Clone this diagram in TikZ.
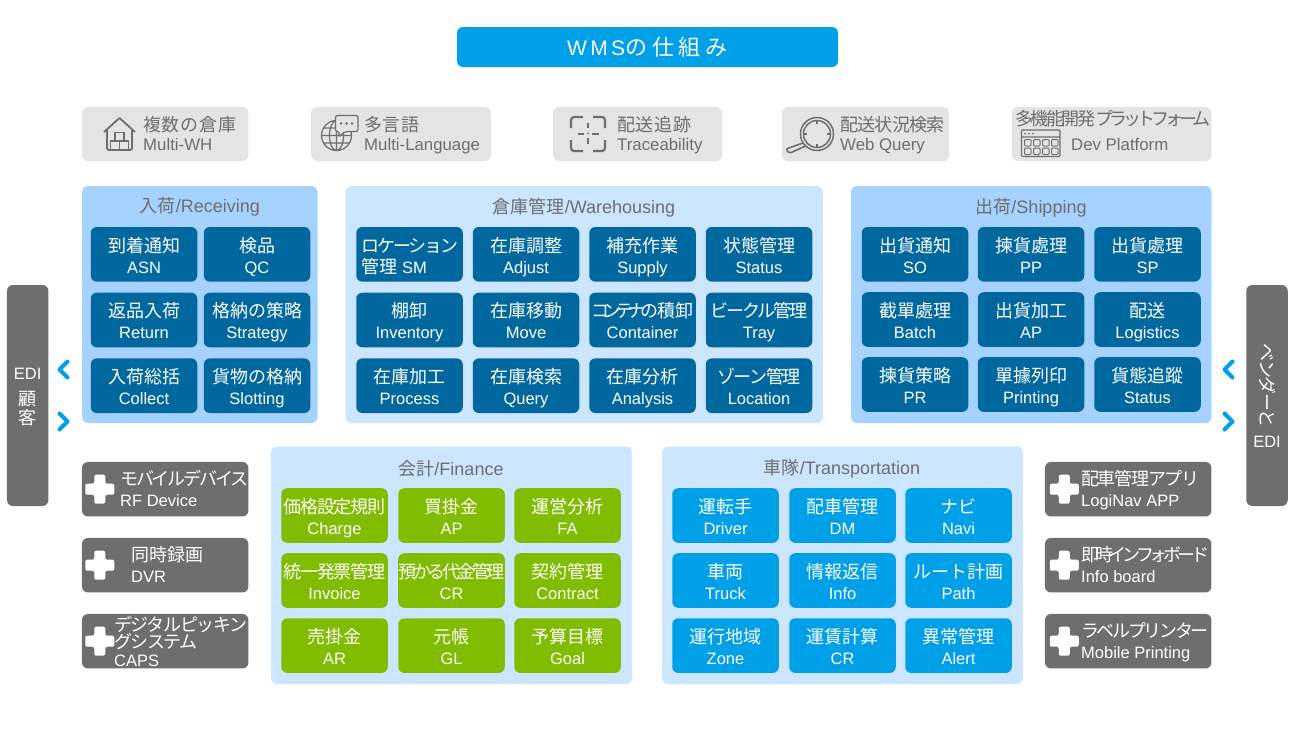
\documentclass[tikz,border=0pt]{standalone}
\usepackage{fontspec}
\usepackage{graphicx}
\setmainfont{Liberation Sans}
\newfontfamily\cjk{Noto Sans CJK JP}
\usepackage{xcolor}
\usetikzlibrary{calc}

\definecolor{wmscyan}{HTML}{00A0E9}
\definecolor{wmsdark}{HTML}{00689F}
\definecolor{wmsgreen}{HTML}{80BC00}
\definecolor{wmsgray}{HTML}{6E6E6E}
\definecolor{wmspale}{HTML}{E4E4E4}
\definecolor{wmssky}{HTML}{A6D2FF}
\definecolor{wmsice}{HTML}{CCE6FF}

% japanese text, optional squeeze in percent
\newcommand{\ja}[2][0]{{\cjk\addfontfeature{LetterSpace=#1}\fontsize{18}{21}\selectfont #2}}
% two lines whose height does not depend on the letters
\newcommand{\twoline}[2]{\rule{0pt}{20.6pt}#1\\#2\rule[-4pt]{0pt}{4pt}}

\begin{document}
\begin{tikzpicture}[x=1pt,y=-1pt]
    \tikzset{panel/.style = {rounded corners=6pt}}
    \tikzset{cell/.style = {rounded corners=6pt,inner sep=0pt,minimum width=106.5pt,minimum height=54.6pt,
      text=white,align=center,font=\fontsize{16.5}{21}\selectfont}}
    \tikzset{paneltitle/.style = {text=wmsgray,inner sep=0pt,font=\fontsize{18}{21}\selectfont}}
    \tikzset{feature/.style = {fill=wmspale,rounded corners=6pt,inner sep=0pt,minimum height=54pt}}
    \tikzset{featuretext/.style = {text=wmsgray,inner sep=0pt,anchor=west,align=left,font=\fontsize{16.8}{19}\selectfont}}
    \tikzset{addon/.style = {fill=wmsgray,rounded corners=6pt,inner sep=0pt,minimum width=166.5pt,minimum height=54.5pt}}
    \tikzset{addontext/.style = {text=white,inner sep=0pt,anchor=west,align=left,font=\fontsize{16.5}{21}\selectfont}}
    \tikzset{sidebar/.style = {fill=wmsgray,rounded corners=6pt,inner sep=0pt,minimum width=41.5pt,minimum height=221pt,
      text=white,align=center,font=\fontsize{16.5}{20}\selectfont}}
    \tikzset{chevron/.style = {draw=wmscyan,line width=4pt,line cap=round,line join=round}}
    \tikzset{icon/.style = {draw=wmsgray,line width=1.5pt,line join=round}}

    \useasboundingbox (0,0) rectangle (1295,732);

    % title
    \node[fill=wmscyan,rounded corners=6pt,minimum width=381pt,minimum height=40pt,inner sep=0pt,text=white,
      font=\fontsize{21}{24}\selectfont] (title) at (647.5,47) {\addfontfeature{LetterSpace=16}WMS{\cjk\addfontfeature{LetterSpace=22}\fontsize{22}{24}\selectfont の仕組み}};

    % feature boxes
    \foreach \n/\x/\w in {wh/165.2/166.5,lang/401/180,trace/637.5/169,web/865.5/167,dev/1111.7/199.5}
    {
      \node[feature,minimum width=\w pt] (\n) at (\x,134) {};
    }
    \node[featuretext] (whtext) at (143,132.5) {\twoline{\ja[4]{複数の倉庫}}{Multi-WH}};
    \node[featuretext] (langtext) at (364,132.5) {\twoline{\ja[4]{多言語}}{Multi-Language}};
    \node[featuretext] (tracetext) at (617,132.5) {\twoline{\ja[4]{配送追跡}}{Traceability}};
    \node[featuretext] (webtext) at (840,132.5) {\twoline{\ja[-4]{配送状況検索}}{Web Query}};
    \node[text=wmsgray,inner sep=0pt,anchor=west] (devtop) at (1015,119) {\ja[-14]{多機能開発}\ja[-22]{プラットフォーム}};
    \node[text=wmsgray,inner sep=0pt,anchor=west,font=\fontsize{16.8}{20}\selectfont] (devtext) at (1071,144) {Dev Platform};

    % feature icons
    \draw[icon,line width=1.8pt] (104,132) -- (119.5,118) -- (135,132) (107,129) -- (107,147) [rounded corners=2pt] -- (107,150) -- (132,150) -- (132,129);
    \draw[icon,line width=1.4pt] (110.5,149.5) rectangle (119.5,141) (119.5,149.5) rectangle (128.5,141) (115,141) rectangle (124,132.5);
    \draw[icon,line width=1.2pt] (336.5,135.5) circle (15) (336.5,135.5) ellipse (7 and 15) (321.5,135.5) -- (351.5,135.5) (336.5,120.5) -- (336.5,150.5)
      (324,128) -- (349,128) (324,143) -- (349,143);
    \draw[icon,line width=1.2pt,fill=wmspale,rounded corners=2pt] (335.5,115.5) -- (358,115.5) -- (358,131.5) -- (345,131.5) -- (338.5,137) -- (339.5,131.5) -- (335.5,131.5) -- cycle;
    \foreach \x in {341,346.5,352} {\fill[wmsgray] (\x,123.5) circle (1.3);}
    \draw[icon,line width=2.2pt,rounded corners=3pt] (571,128) -- (571,117) -- (583,117) (593,117) -- (605,117) -- (605,128)
      (605,140) -- (605,151) -- (593,151) (583,151) -- (571,151) -- (571,140);
    \draw[icon,line width=2pt] (588,123) -- (588,128) (588,138) -- (588,144) (578,133.5) -- (584,133.5) (592,133.5) -- (599,133.5);
    \fill[wmsgray] (588,133.5) circle (1);
    \draw[icon,line width=1.5pt] (817,134) circle (16.5) (817,134) circle (13.5);
    \draw[icon,line width=1.4pt] (817,120.5) -- (817,124) (817,147.5) -- (817,144) (803.5,134) -- (807,134) (830.5,134) -- (827,134);
    \draw[icon,line width=1.6pt,rounded corners=2pt] (803,143) -- (786,149) -- (789,153.5) -- (805.5,146);
    \draw[icon,line width=1.2pt,rounded corners=1pt] (1021.5,130) rectangle (1060,156.5) (1021.5,137) -- (1060,137);
    \foreach \x in {1025,1029,1033} {\fill[wmsgray] (\x,133.6) circle (1);}
    \foreach \x in {1024.5,1033.5,1042.5,1051.5}
      \foreach \y in {139.5,148}
        {\draw[icon,line width=1pt,rounded corners=1pt] (\x,\y) rectangle ++(6.5,6.5);}

    % panels
    \fill[wmssky,panel] (82,186) rectangle (317.5,423);
    \fill[wmsice,panel] (345.5,186) rectangle (823,423);
    \fill[wmssky,panel] (851,186) rectangle (1211.5,423);
    \fill[wmsice,panel] (271,446.5) rectangle (632,684);
    \fill[wmsice,panel] (662,446.5) rectangle (1023,684);

    % panel titles
    \node[paneltitle] (rcvtitle) at (200,206.5) {{\cjk 入荷}/Receiving};
    \node[paneltitle] (whstitle) at (584,207.5) {{\cjk 倉庫管理}/Warehousing};
    \node[paneltitle] (shptitle) at (1031,207.5) {{\cjk 出荷}/Shipping};
    \node[paneltitle] (fintitle) at (451,468.5) {{\cjk 会計}/Finance};
    \node[paneltitle] (trntitle) at (842,468.5) {{\cjk 車隊}/Transportation};

    % dark cells
    \foreach \n/\x/\y/\jtext/\etext in {
      asn/144/254.3/到着通知/ASN,qc/257/254.3/検品/QC,
      ret/144/320/返品入荷/Return,stg/257/320/格納の策略/Strategy,
      col/144/385.7/入荷総括/Collect,slt/257/385.7/貨物の格納/Slotting,
      adj/526/254.3/在庫調整/Adjust,sup/642.5/254.3/補充作業/Supply,sta/759/254.3/状態管理/Status,
      inv/409.5/320/棚卸/Inventory,mov/526/320/在庫移動/Move,
      prc/409.5/385.7/在庫加工/Process,qry/526/385.7/在庫検索/Query,ana/642.5/385.7/在庫分析/Analysis,
      so/915/254.3/出貨通知/SO,pp/1031/254.3/揀貨處理/PP,sp/1147.5/254.3/出貨處理/SP,
      bat/915/319.5/截單處理/Batch,ap/1031/319.5/出貨加工/AP,log/1147.5/319.5/配送/Logistics,
      pr/915/384.5/揀貨策略/PR,prn/1031/384.5/單據列印/Printing,tst/1147.5/384.5/貨態追蹤/Status}
    {
      \node[cell,fill=wmsdark] (\n) at (\x,\y) {\twoline{\ja{\jtext}}{\etext}};
    }
    \node[cell,fill=wmsdark] (sm) at (409.5,254.3) {\twoline{\makebox[96pt][l]{\ja[-12]{ロケーション}}}{\makebox[96pt][l]{\ja{管理} SM}}};
    \node[cell,fill=wmsdark] (ctn) at (642.5,320) {\twoline{\ja[-32]{コンテナの}\ja{積卸}}{Container}};
    \node[cell,fill=wmsdark] (tray) at (759,320) {\twoline{\ja[-12]{ビークル管理}}{Tray}};
    \node[cell,fill=wmsdark] (loc) at (759,385.7) {\twoline{\ja[-8]{ゾーン管理}}{Location}};

    % green cells
    \foreach \n/\x/\y/\jtext/\etext in {
      fap/451.5/515.5/買掛金/AP,fa/567.5/515.5/運営分析/FA,
      ctr/567.5/580.5/契約管理/Contract,
      ar/334.5/645.6/売掛金/AR,gl/451.5/645.6/元帳/GL,goal/567.5/645.6/予算目標/Goal}
    {
      \node[cell,fill=wmsgreen] (\n) at (\x,\y) {\twoline{\ja{\jtext}}{\etext}};
    }
    \node[cell,fill=wmsgreen] (chg) at (334.5,515.5) {\twoline{\ja[-7]{価格設定規則}}{Charge}};
    \node[cell,fill=wmsgreen] (ivc) at (334.5,580.5) {\twoline{\ja[-6]{統一発票管理}}{Invoice}};
    \node[cell,fill=wmsgreen] (cr) at (451.5,580.5) {\twoline{\ja[-18]{預かる代金管理}}{CR}};

    % cyan cells
    \foreach \n/\x/\y/\jtext/\etext in {
      drv/725.5/515.5/運転手/Driver,dm/842.5/515.5/配車管理/DM,navi/958.5/515.5/ナビ/Navi,
      trk/725.5/580.5/車両/Truck,inf/842.5/580.5/情報返信/Info,pth/958.5/580.5/ルート計画/Path,
      zon/725.5/645.6/運行地域/Zone,ccr/842.5/645.6/運賃計算/CR,alt/958.5/645.6/異常管理/Alert}
    {
      \node[cell,fill=wmscyan] (\n) at (\x,\y) {\twoline{\ja{\jtext}}{\etext}};
    }

    % add-on boxes
    \foreach \n/\x/\y/\p in {rf/165.2/489.2/18,dvr/165.2/565.2/18,caps/165.2/641.2/18,navapp/1128.2/489.2/19.5,board/1128.2/565.2/19.5,lbl/1128.2/641.2/19.5}
    {
      \node[addon] (\n) at (\x,\y) {};
      \fill[white,rounded corners=2pt,shift={($(\n.west)+(\p,0)$)}] (-5.5,-14.5) -- (5.5,-14.5) -- (5.5,-5.5) -- (14.5,-5.5) -- (14.5,5.5)
        -- (5.5,5.5) -- (5.5,14.5) -- (-5.5,14.5) -- (-5.5,5.5) -- (-14.5,5.5) -- (-14.5,-5.5) -- (-5.5,-5.5) -- cycle;
    }
    \node[addontext] (rftext) at (120,488) {\twoline{\ja[-12]{モバイルデバイス}}{RF Device}};
    \node[addontext] (dvrtext) at (131,564) {\twoline{\ja{同時録画}}{DVR}};
    \node[addontext,font=\fontsize{16.5}{17.5}\selectfont] (capstext) at (114,641) {\ja[-8]{デジタルピッキン}\\\ja[-8]{グシステム}\\CAPS};
    \node[addontext] (navtext) at (1081,488) {\twoline{\ja[-7]{配車管理アプリ}}{LogiNav APP}};
    \node[addontext] (boardtext) at (1081,564) {\twoline{\ja[-23]{即時インフォボード}}{Info board}};
    \node[addontext] (lbltext) at (1081,640) {\twoline{\ja[-13]{ラベルプリンター}}{Mobile Printing}};

    % side bars
    \node[sidebar] (customer) at (27.7,395.5) {\rule{0pt}{15pt}EDI\\[6pt]\ja{顧}\\[-1pt]\ja{客}};
    \node[sidebar] (vendor) at (1267,395.5) {\rotatebox{-90}{\ja[-8]{ベンダーと}}\\[7pt]EDI};

    % chevrons
    \coordinate (inL) at (67.5,361.5);
    \coordinate (outL) at (59.5,413.5);
    \coordinate (inR) at (1232.5,361.5);
    \coordinate (outR) at (1224.5,413.5);
    \foreach \c in {inL,inR} {\draw[chevron] ($(\c)+(0,0)$) -- ($(\c)+(-8,8)$) -- ($(\c)+(0,16)$);}
    \foreach \c in {outL,outR} {\draw[chevron] ($(\c)+(0,0)$) -- ($(\c)+(8,8)$) -- ($(\c)+(0,16)$);}
\end{tikzpicture}
\end{document}
